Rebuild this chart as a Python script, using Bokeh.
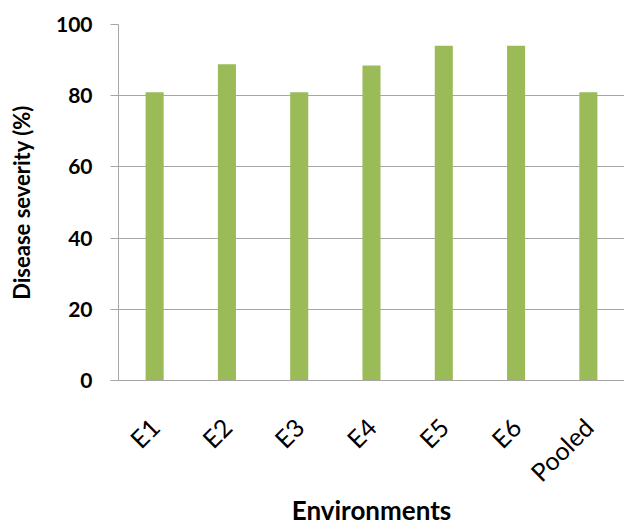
import math
from bokeh.plotting import figure
from bokeh.models import FactorRange, ColumnDataSource, FixedTicker
from bokeh.embed import file_html
from bokeh.resources import INLINE

categories = ["E1", "E2", "E3", "E4", "E5", "E6", "Pooled"]
severity = [81.0, 88.8, 81.0, 88.5, 94.0, 94.0, 81.0]
y_ticks = [0, 20, 40, 60, 80, 100]
x_title = "Environments"
y_title = "Disease severity (%)"

src = ColumnDataSource(dict(x=categories, top=severity))

p = figure(x_range=FactorRange(*categories, range_padding=0), y_range=(0, 100),
           width=624, height=530, output_backend="svg", toolbar_location=None,
           min_border_left=118, min_border_right=0, min_border_top=24, min_border_bottom=150)
p.vbar(x="x", top="top", width=0.25, source=src, fill_color="#9BBB59", line_color=None)

p.outline_line_color = None
p.background_fill_color = "white"
p.border_fill_color = "white"

grey = "#A6A6A6"
p.xgrid.grid_line_color = None
p.ygrid.grid_line_color = grey
p.ygrid.grid_line_width = 1
p.yaxis.ticker = FixedTicker(ticks=y_ticks)

p.yaxis.axis_line_color = grey
p.yaxis.major_tick_line_color = grey
p.yaxis.major_tick_out = 8
p.yaxis.major_tick_in = 0
p.yaxis.minor_tick_line_color = None
p.yaxis.major_label_text_font = "Lato"
p.yaxis.major_label_text_font_style = "bold"
p.yaxis.major_label_text_font_size = "21px"
p.yaxis.major_label_text_color = "black"
p.yaxis.major_label_standoff = 18
p.yaxis.axis_label = y_title
p.yaxis.axis_label_text_font = "Lato"
p.yaxis.axis_label_text_font_style = "bold"
p.yaxis.axis_label_text_font_size = "22px"
p.yaxis.axis_label_text_color = "black"
p.yaxis.axis_label_standoff = 18

p.xaxis.axis_line_color = grey
p.xaxis.major_tick_line_color = None
p.xaxis.minor_tick_line_color = None
p.xaxis.major_label_orientation = math.pi / 4
p.xaxis.major_label_text_font = "Lato"
p.xaxis.major_label_text_font_size = "25px"
p.xaxis.major_label_text_color = "black"
p.xaxis.major_label_standoff = 36
p.xaxis.axis_label = x_title
p.xaxis.axis_label_text_font = "Lato"
p.xaxis.axis_label_text_font_style = "bold"
p.xaxis.axis_label_text_font_size = "26px"
p.xaxis.axis_label_text_color = "black"
p.xaxis.axis_label_standoff = -6

open("out.html", "w").write(file_html(p, INLINE))
